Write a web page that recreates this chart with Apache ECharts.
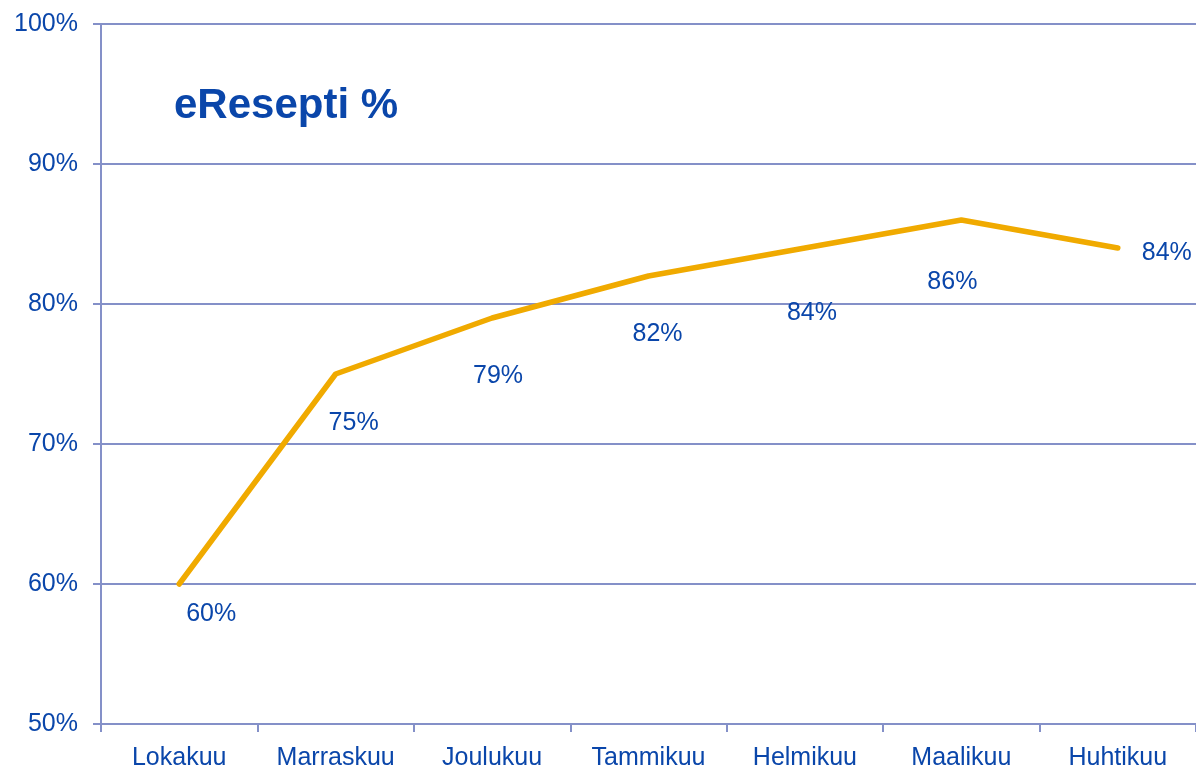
<!DOCTYPE html>
<html>
<head>
<meta charset="utf-8">
<script src="https://cdn.jsdelivr.net/npm/echarts@6/dist/echarts.min.js"></script>
<style>html,body{margin:0;padding:0;background:#fff}#c{width:1196px;height:769px}</style>
</head>
<body>
<div id="c"></div>
<script>
const categories = ['Lokakuu','Marraskuu','Joulukuu','Tammikuu','Helmikuu','Maalikuu','Huhtikuu'];
const values = [60, 75, 79, 82, 84, 86, 84];
const titleText = 'eResepti %';

const labelOffsets = [[32,30],[18,49],[6,58],[9,58],[7,65],[-9,62],[49,5]];
const textColor = '#0a46aa';
const axisColor = '#8490c8';
const font = '"Liberation Sans", Arial, sans-serif';

const chart = echarts.init(document.getElementById('c'));
chart.setOption({
  animation: false,
  title: {
    text: titleText, left: 169, top: 80,
    textStyle: { color: textColor, fontSize: 42, fontWeight: 'bold', fontFamily: font }
  },
  grid: { left: 101, right: 0, top: 24, bottom: 45, containLabel: false, outerBoundsMode: 'none' },
  xAxis: {
    type: 'category', data: categories, boundaryGap: true,
    axisLine: { lineStyle: { color: axisColor, width: 2 } },
    axisTick: { show: true, length: 8, lineStyle: { color: axisColor, width: 2 } },
    axisLabel: { color: textColor, fontSize: 25, fontFamily: font, margin: 22 },
    splitLine: { show: false }
  },
  yAxis: {
    type: 'value', min: 50, max: 100, interval: 10,
    axisLine: { show: true, lineStyle: { color: axisColor, width: 2 } },
    axisTick: { show: true, length: 8, lineStyle: { color: axisColor, width: 2 } },
    axisLabel: { color: textColor, fontSize: 25, fontFamily: font, margin: 23, formatter: v => v + '%' },
    splitLine: { show: true, lineStyle: { color: axisColor, width: 2 } }
  },
  series: [{
    type: 'line',
    data: values.map((v, i) => ({
      value: v,
      label: { offset: labelOffsets[i] }
    })),
    symbol: 'circle', symbolSize: 0, showSymbol: true,
    lineStyle: { color: '#f0aa00', width: 5.5, cap: 'round', join: 'round' },
    itemStyle: { color: '#f0aa00' },
    label: {
      show: true, position: 'inside', align: 'center', verticalAlign: 'middle',
      color: textColor, fontSize: 25, fontFamily: font,
      formatter: p => p.value + '%'
    }
  }]
});
</script>
</body>
</html>
